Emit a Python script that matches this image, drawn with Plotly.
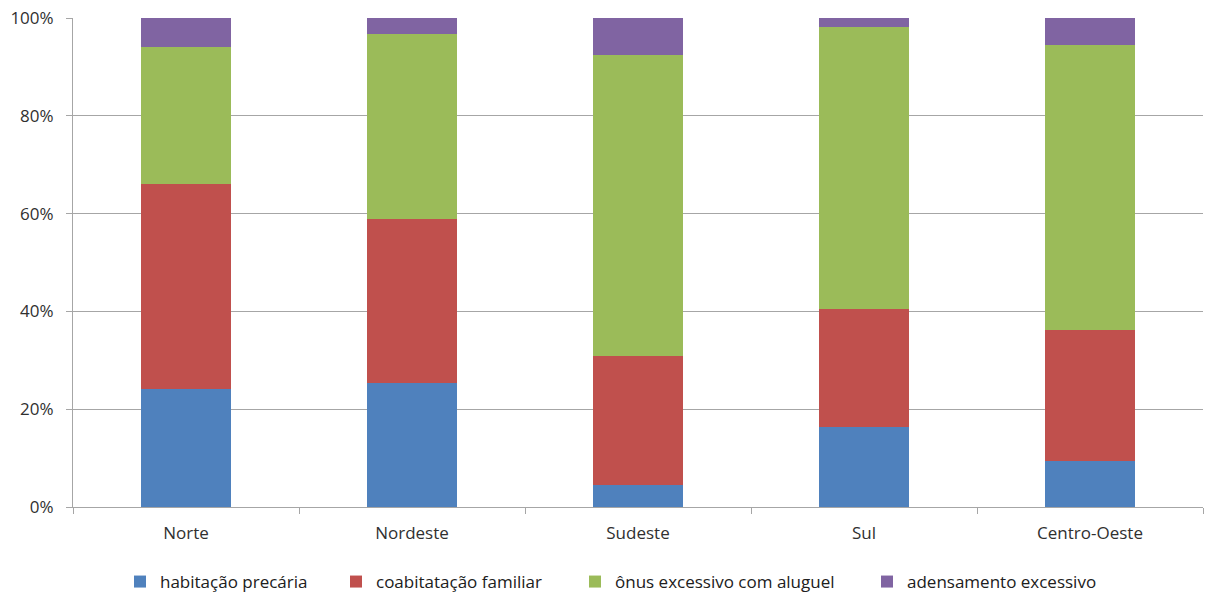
import plotly.graph_objects as go

categories = ["Norte", "Nordeste", "Sudeste", "Sul", "Centro-Oeste"]
habitacao_precaria = [24.2, 25.3, 4.6, 16.4, 9.5]
coabitacao_familiar = [41.9, 33.5, 26.3, 24.0, 26.7]
onus_aluguel = [27.9, 37.9, 61.5, 57.8, 58.3]
adensamento = [6.0, 3.3, 7.6, 1.8, 5.5]

series = [
    ("habitação precária", habitacao_precaria, "#4F81BD"),
    ("coabitatação familiar", coabitacao_familiar, "#C0504D"),
    ("ônus excessivo com aluguel", onus_aluguel, "#9BBB59"),
    ("adensamento excessivo", adensamento, "#8064A2"),
]
legend_x_px = [133, 349, 588, 880]

font_family = "Open Sans, Liberation Sans, sans-serif"
fig = go.Figure()
legend_layout = {}
for i, (name, vals, color) in enumerate(series):
    lg = "legend" if i == 0 else f"legend{i+1}"
    fig.add_trace(go.Bar(x=categories, y=vals, name=name, marker_color=color,
                         marker_line_width=0, legend=lg))
    legend_layout[lg] = dict(
        orientation="h", xref="container", yref="container",
        x=(legend_x_px[i] - 13) / 1205, xanchor="left",
        y=(594 - 582) / 594, yanchor="middle",
        font=dict(size=17, color="#202020", family=font_family),
        itemwidth=30, bgcolor="rgba(0,0,0,0)",
    )

fig.update_layout(
    barmode="stack",
    bargap=0.6,
    width=1205, height=594,
    margin=dict(l=73, r=2, t=18, b=87, autoexpand=False),
    plot_bgcolor="white", paper_bgcolor="white",
    font=dict(family=font_family, size=17, color="#404040"),
    showlegend=True,
    **legend_layout,
)
fig.update_yaxes(range=[0, 100], dtick=20, ticksuffix="%", showgrid=True,
                 gridcolor="#A6A6A6", gridwidth=1, showline=True, linecolor="#A6A6A6",
                 ticks="outside", ticklen=6, tickcolor="#A6A6A6", zeroline=False,
                 ticklabelstandoff=9, automargin=False,
                 tickfont=dict(size=17, color="#303030"))
fig.update_xaxes(showline=True, linecolor="#A6A6A6", ticks="outside", ticklen=6,
                 tickcolor="#A6A6A6", tickson="boundaries", automargin=False,
                 ticklabelstandoff=11,
                 tickfont=dict(size=17, color="#303030"))

fig.write_html("out.html")
